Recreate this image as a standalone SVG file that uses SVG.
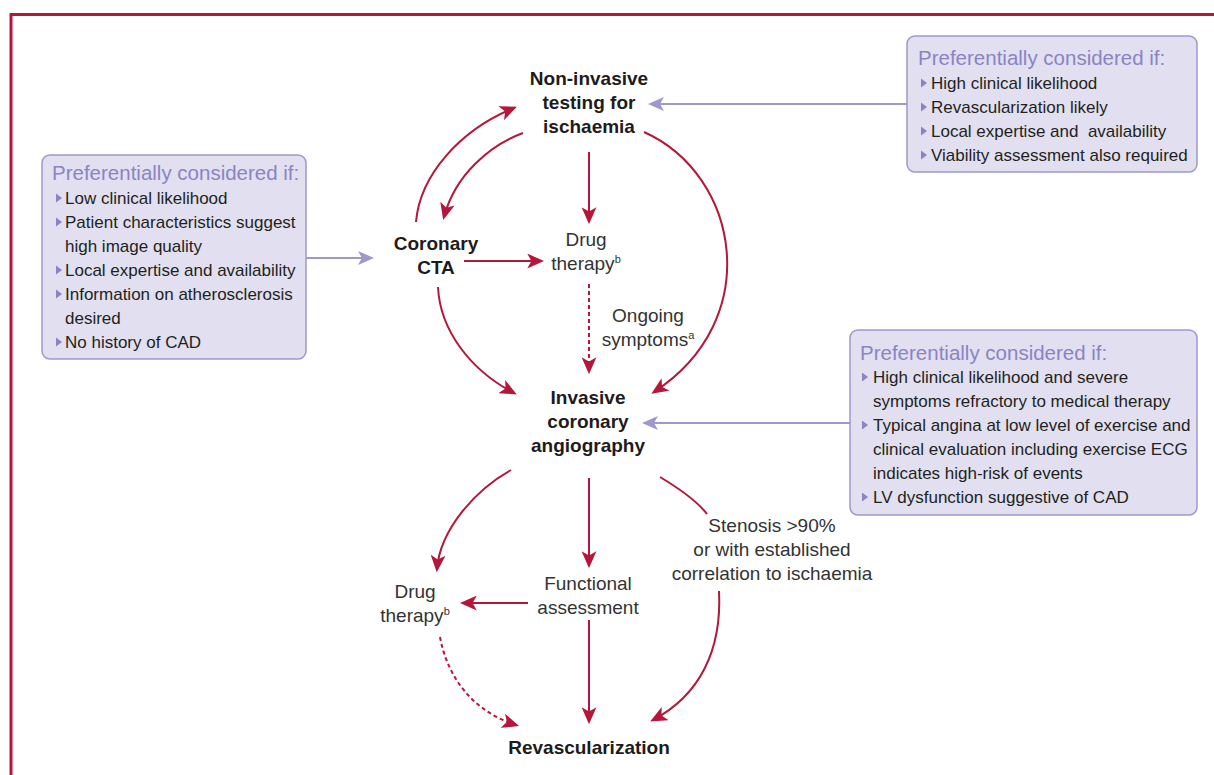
<svg xmlns="http://www.w3.org/2000/svg" width="1214" height="775" viewBox="0 0 1214 775">
<defs>
<style>
.frame{stroke:#b5173a;stroke-width:3;fill:none}
.box{fill:#e1dff0;stroke:#9e98cb;stroke-width:1.5}
.ttl{font-family:"Liberation Sans",Arial,sans-serif;font-size:20.5px;fill:#8a84c2}
.itm{font-family:"Liberation Sans",Arial,sans-serif;font-size:17px;fill:#231f20}
.bul{fill:#8a84c2}
.nb{font-family:"Liberation Sans",Arial,sans-serif;font-size:19px;font-weight:bold;fill:#1e1b1c;text-anchor:middle}
.nr{font-family:"Liberation Sans",Arial,sans-serif;font-size:19px;fill:#333333;text-anchor:middle}
.sup{font-size:11px}
.red{stroke:#b5173a;stroke-width:2;fill:none;marker-end:url(#ar)}
.dash{stroke-dasharray:4 3}
.redp{stroke:#b5173a;stroke-width:2;fill:none}
.lav{stroke:#9e98cb;stroke-width:2;fill:none;marker-end:url(#al)}
</style>
<marker id="ar" viewBox="0 0 16 14" refX="13" refY="7" markerWidth="17" markerHeight="15" markerUnits="userSpaceOnUse" orient="auto">
<path d="M0,0 L16,7 L0,14 L4,7 z" fill="#b5173a"/>
</marker>
<marker id="al" viewBox="0 0 16 14" refX="13" refY="7" markerWidth="16" markerHeight="14" markerUnits="userSpaceOnUse" orient="auto">
<path d="M0,0 L16,7 L0,14 L4,7 z" fill="#9e98cb"/>
</marker>
<path id="tri" d="M0,-4.5 L6,0 L0,4.5 z"/>
</defs>
<rect width="1214" height="775" fill="#ffffff"/>
<path class="frame" d="M11,775 L11,14.5 L1214,14.5"/>

<g id="connectors">
<path class="red" d="M416,222 C420,175 460,130 514,108"/>
<path class="red" d="M523,133 C490,145 455,175 444,217"/>
<path class="red" d="M589,152 L589,221"/>
<path class="red" d="M464,261 L541,261"/>
<path class="red dash" d="M589,284 L589,371"/>
<path class="red" d="M438,287 C440,330 470,370 514,393"/>
<path class="red" d="M644,132 C740,175 765,320 654,392"/>
<path class="red" d="M511,470 C475,490 440,530 437,569"/>
<path class="red" d="M589,478 L589,565"/>
<path class="red" d="M528,603 L463,603"/>
<path class="red" d="M589,620 L589,721"/>
<path class="red dash" d="M440,637 C448,680 475,712 516,725"/>
<path class="redp" d="M660,477 C680,489 697,501 707,514"/>
<path class="red" d="M719,591 C722,650 700,695 653,720"/>
<path class="lav" d="M306,258 L371,258"/>
<path class="lav" d="M907,104 L651,104"/>
<path class="lav" d="M850,423 L645,423"/>
</g>

<g id="box-cta">
<rect class="box" x="42" y="155" width="264" height="204" rx="8"/>
<text class="ttl" x="52" y="180">Preferentially considered if:</text>
<use href="#tri" class="bul" x="56" y="198"/>
<text class="itm" x="65" y="204">Low clinical likelihood</text>
<use href="#tri" class="bul" x="56" y="222"/>
<text class="itm" x="65" y="228">Patient characteristics suggest</text>
<text class="itm" x="65" y="252">high image quality</text>
<use href="#tri" class="bul" x="56" y="270"/>
<text class="itm" x="65" y="276">Local expertise and availability</text>
<use href="#tri" class="bul" x="56" y="294"/>
<text class="itm" x="65" y="300">Information on atherosclerosis</text>
<text class="itm" x="65" y="324">desired</text>
<use href="#tri" class="bul" x="56" y="342"/>
<text class="itm" x="65" y="348">No history of CAD</text>
</g>

<g id="box-noninvasive">
<rect class="box" x="907" y="36" width="290" height="136" rx="8"/>
<text class="ttl" x="918" y="65">Preferentially considered if:</text>
<use href="#tri" class="bul" x="921" y="83"/>
<text class="itm" x="931" y="89">High clinical likelihood</text>
<use href="#tri" class="bul" x="921" y="107"/>
<text class="itm" x="931" y="113">Revascularization likely</text>
<use href="#tri" class="bul" x="921" y="131"/>
<text class="itm" x="931" y="137" xml:space="preserve">Local expertise and  availability</text>
<use href="#tri" class="bul" x="921" y="155"/>
<text class="itm" x="931" y="161">Viability assessment also required</text>
</g>

<g id="box-invasive">
<rect class="box" x="850" y="330" width="347" height="185" rx="8"/>
<text class="ttl" x="860" y="360">Preferentially considered if:</text>
<use href="#tri" class="bul" x="862" y="377"/>
<text class="itm" x="873" y="383">High clinical likelihood and severe</text>
<text class="itm" x="873" y="407">symptoms refractory to medical therapy</text>
<use href="#tri" class="bul" x="862" y="425"/>
<text class="itm" x="873" y="431">Typical angina at low level of exercise and</text>
<text class="itm" x="873" y="455">clinical evaluation including exercise ECG</text>
<text class="itm" x="873" y="479">indicates high-risk of events</text>
<use href="#tri" class="bul" x="862" y="497"/>
<text class="itm" x="873" y="503">LV dysfunction suggestive of CAD</text>
</g>

<g id="node-noninvasive">
<text class="nb" x="589" y="85">Non-invasive</text>
<text class="nb" x="589" y="109">testing for</text>
<text class="nb" x="589" y="133">ischaemia</text>
</g>
<g id="node-cta">
<text class="nb" x="436" y="250">Coronary</text>
<text class="nb" x="436" y="274">CTA</text>
</g>
<g id="node-drug1">
<text class="nr" x="586" y="246">Drug</text>
<text class="nr" x="586" y="270">therapy<tspan class="sup" dy="-7">b</tspan></text>
</g>
<g id="label-ongoing">
<text class="nr" x="648" y="322">Ongoing</text>
<text class="nr" x="648" y="346">symptoms<tspan class="sup" dy="-7">a</tspan></text>
</g>
<g id="node-invasive">
<text class="nb" x="588" y="404">Invasive</text>
<text class="nb" x="588" y="428">coronary</text>
<text class="nb" x="588" y="452">angiography</text>
</g>
<g id="node-drug2">
<text class="nr" x="415" y="598">Drug</text>
<text class="nr" x="415" y="622">therapy<tspan class="sup" dy="-7">b</tspan></text>
</g>
<g id="node-functional">
<text class="nr" x="588" y="590">Functional</text>
<text class="nr" x="588" y="614">assessment</text>
</g>
<g id="label-stenosis">
<text class="nr" x="772" y="532">Stenosis &gt;90%</text>
<text class="nr" x="772" y="556">or with established</text>
<text class="nr" x="772" y="580">correlation to ischaemia</text>
</g>
<g id="node-revasc">
<text class="nb" x="589" y="754">Revascularization</text>
</g>
</svg>
